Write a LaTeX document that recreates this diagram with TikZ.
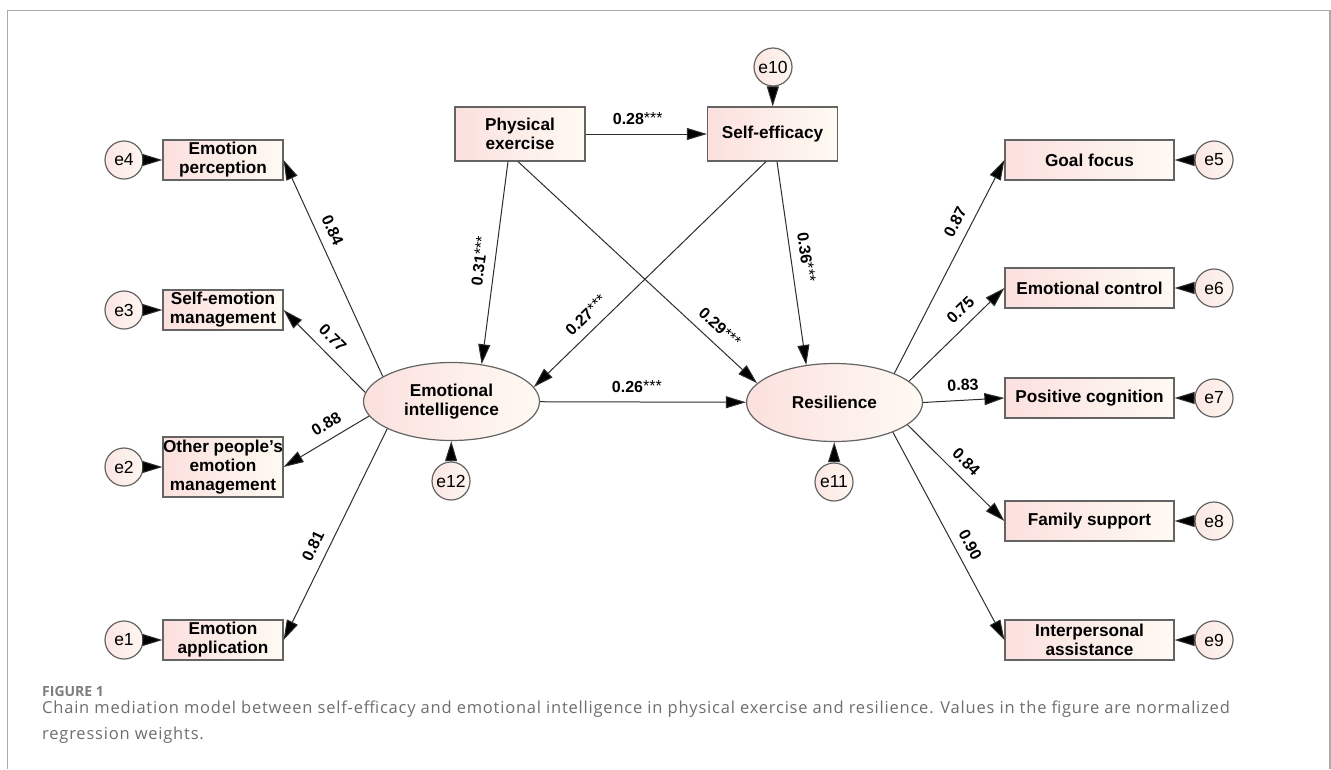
\documentclass[tikz,border=0pt]{standalone}
\usepackage{fontspec}
\setmainfont{Liberation Sans}
\newfontfamily\capfont[LetterSpace=4.8]{Open Sans}
\newfontfamily\figfont{Open Sans}
\usetikzlibrary{arrows.meta,shapes.geometric}
\definecolor{boxL}{RGB}{251,224,222}
\definecolor{boxR}{RGB}{254,250,242}
\definecolor{errL}{RGB}{251,230,226}
\definecolor{errR}{RGB}{254,246,240}
\definecolor{bord}{RGB}{100,100,100}
\definecolor{lin}{RGB}{45,45,45}
\definecolor{capgray}{RGB}{110,110,110}
\definecolor{figgray}{RGB}{125,125,125}
\definecolor{framegray}{RGB}{170,170,170}
\newcommand\mystars{{\mdseries\raisebox{1pt}{***}}}
\begin{document}
\begin{tikzpicture}[x=1pt,y=-1pt,
  obs/.style={rectangle, draw=bord, line width=1.2pt, left color=boxL, right color=boxR,
    minimum width=120pt, minimum height=40pt, inner sep=0pt, align=center,
    font=\fontsize{17.2}{19}\selectfont\bfseries},
  lat/.style={ellipse, draw=bord, line width=1.2pt, left color=boxL, right color=boxR,
    minimum width=176pt, minimum height=78pt, inner sep=0pt, align=center,
    font=\fontsize{17.2}{19}\selectfont\bfseries},
  err/.style={circle, draw=bord, line width=1.2pt, left color=errL, right color=errR, minimum size=38pt,
    inner sep=0pt, font=\fontsize{17.5}{18}\selectfont},
  arr/.style={draw=lin, line width=1pt, -{Triangle[length=20pt,width=12pt,fill=black]}},
  wt/.style={sloped, inner sep=9pt, font=\fontsize{16}{16}\selectfont\bfseries},
  captext/.style={anchor=base west, inner sep=0pt, text=capgray,
    font=\capfont\fontsize{16.5}{18}\selectfont}]
\useasboundingbox (0,0) rectangle (1331,769);
\draw[framegray, line width=1.5pt] (7.5,769) -- (7.5,10.7) -- (1330,10.7) -- (1330,769);

% observed variables, left
\node[obs] (EP) at (223,160) {Emotion\\perception};
\node[obs] (SEM) at (223,310) {Self-emotion\\management};
\node[obs, minimum height=60pt] (OPEM) at (223,467) {Other people's\\emotion\\management};
\node[obs] (EA) at (223,640) {Emotion\\application};
% top
\node[obs, minimum width=130pt, minimum height=54pt] (PE) at (520,134) {Physical\\exercise};
\node[obs, minimum width=130pt, minimum height=54pt] (SE) at (772.5,134) {Self-efficacy};
% right
\node[obs, minimum width=169pt] (GF) at (1089.5,160) {Goal focus};
\node[obs, minimum width=169pt] (EC) at (1089.5,288) {Emotional control};
\node[obs, minimum width=169pt] (PC) at (1089.5,398) {Positive cognition};
\node[obs, minimum width=169pt] (FS) at (1089.5,521) {Family support};
\node[obs, minimum width=169pt] (IA) at (1089.5,640) {Interpersonal\\assistance};
% latent
\node[lat] (EI) at (451.5,401.5) {Emotional\\intelligence};
\node[lat] (RES) at (834.5,402.5) {Resilience};
% errors
\node[err] (e4) at (124,160) {e4};
\node[err] (e3) at (124,310) {e3};
\node[err] (e2) at (124,467) {e2};
\node[err] (e1) at (124,640) {e1};
\node[err] (e10) at (773,67) {e10};
\node[err] (e12) at (451,481) {e12};
\node[err] (e11) at (834,482) {e11};
\node[err] (e5) at (1214,160) {e5};
\node[err] (e6) at (1214,288) {e6};
\node[err] (e7) at (1214,398) {e7};
\node[err] (e8) at (1214,521) {e8};
\node[err] (e9) at (1214,640) {e9};

% error arrows
\foreach \e/\t in {e4/EP, e3/SEM, e2/OPEM, e1/EA, e10/SE, e12/EI, e11/RES, e5/GF, e6/EC, e7/PC, e8/FS, e9/IA}
  \draw[arr] (\e) -- (\t);

% structural paths
\draw[arr] (PE) -- (SE) node[wt, pos=0.43, above] {0.28\mystars};
\draw[arr] ([xshift=-12pt]PE.south) -- (EI.51) node[wt, pos=0.5, above] {0.31\mystars};
\draw[arr] ([xshift=-2pt]PE.south) -- (RES.166) node[wt, pos=0.8, above] {0.29\mystars};
\draw[arr] ([xshift=-6.5pt]SE.south) -- (EI.10) node[wt, pos=0.73, above] {0.27\mystars};
\draw[arr] ([xshift=4.5pt]SE.south) -- (RES.127) node[wt, pos=0.48, above] {0.36\mystars};
\draw[arr] (EI) -- (RES) node[wt, pos=0.47, above] {0.26\mystars};

% measurement paths, left
\draw[arr] (EI.160) -- (EP.east) node[wt, pos=0.645, above] {0.84};
\draw[arr] (EI.174) -- (SEM.east) node[wt, pos=0.53, above] {0.77};
\draw[arr] (EI.190) -- (OPEM.east) node[wt, pos=0.41, above] {0.88};
\draw[arr] (EI.203) -- (EA.east) node[wt, pos=0.585, above] {0.81};
% measurement paths, right
\draw[arr] (RES.26) -- (GF.west) node[wt, pos=0.675, above] {0.87};
\draw[arr] (RES.16) -- (EC.west) node[wt, pos=0.65, above] {0.75};
\draw[arr] (RES.east) -- (PC.west) node[wt, pos=0.5, above] {0.83};
\draw[arr] (RES.-17) -- (FS.west) node[wt, pos=0.495, above] {0.84};
\draw[arr] (RES.-27) -- (IA.west) node[wt, pos=0.575, above] {0.90};

% caption
\node[anchor=base west, inner sep=0pt, text=figgray, font=\figfont\fontsize{14}{14}\selectfont\bfseries] (fig) at (42,696) {FIGURE 1};
\node[captext] (cap1) at (42,713) {Chain mediation model between self-efficacy and emotional intelligence in physical exercise and resilience. Values in the figure are normalized};
\node[captext] (cap2) at (42,739) {regression weights.};
\end{tikzpicture}
\end{document}
